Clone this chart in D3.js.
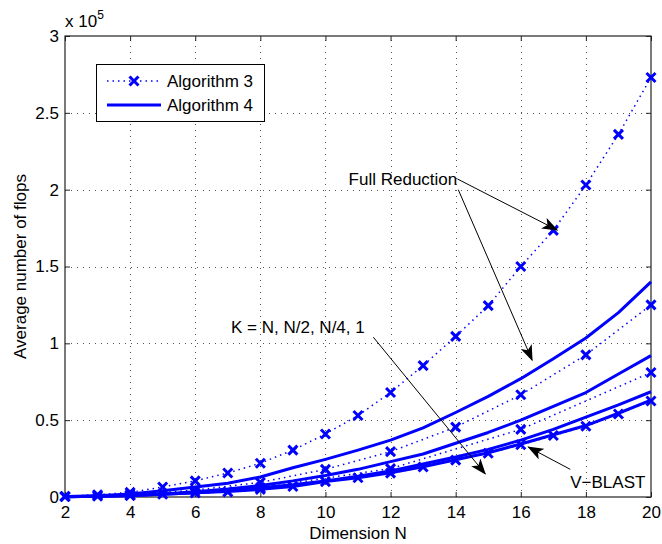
<!DOCTYPE html>
<html>
<head>
<meta charset="utf-8">
<title>flops</title>
<script src="https://cdn.jsdelivr.net/npm/d3@7"></script>
<style>
  body { margin: 0; background: #fff; }
  text { font-family: "Liberation Sans", Arial, sans-serif; }
</style>
</head>
<body>
<script>
// dimension N
var dims = d3.range(2, 21);
var evenDims = [2, 4, 6, 8, 10, 12, 14, 16, 18, 20];
var quarterDims = [4, 8, 12, 16, 20];

// Algorithm 3 (dotted, x markers), values in units of 1e5
var alg3Full = [0.005, 0.015, 0.03, 0.065, 0.105, 0.156, 0.22, 0.305, 0.41, 0.53, 0.68, 0.855, 1.045, 1.245, 1.50, 1.735, 2.03, 2.36, 2.73];
var alg3Half = [0.003, 0.015, 0.045, 0.095, 0.18, 0.295, 0.455, 0.665, 0.925, 1.25];
var alg3Quarter = [0.01, 0.06, 0.185, 0.44, 0.81];
var alg3One = [0.002, 0.005, 0.01, 0.018, 0.027, 0.033, 0.05, 0.068, 0.10, 0.125, 0.155, 0.195, 0.24, 0.285, 0.34, 0.40, 0.46, 0.54, 0.625];

// Algorithm 4 (solid)
var alg4Full = [0.003, 0.008, 0.02, 0.04, 0.065, 0.09, 0.13, 0.19, 0.245, 0.305, 0.37, 0.45, 0.55, 0.655, 0.77, 0.90, 1.035, 1.20, 1.40];
var alg4Half = [0.002, 0.005, 0.01, 0.02, 0.035, 0.052, 0.075, 0.105, 0.14, 0.18, 0.23, 0.28, 0.35, 0.42, 0.50, 0.59, 0.68, 0.80, 0.92];
var alg4Quarter = [0.002, 0.005, 0.01, 0.018, 0.028, 0.04, 0.06, 0.08, 0.105, 0.135, 0.17, 0.215, 0.26, 0.31, 0.37, 0.44, 0.52, 0.60, 0.685];
var vblast = [0.002, 0.005, 0.01, 0.018, 0.027, 0.035, 0.05, 0.068, 0.10, 0.125, 0.157, 0.197, 0.242, 0.288, 0.345, 0.405, 0.465, 0.545, 0.63];

var xTicks = [2, 4, 6, 8, 10, 12, 14, 16, 18, 20];
var yTicks = [0, 0.5, 1, 1.5, 2, 2.5, 3];
var legendLabels = ["Algorithm 3", "Algorithm 4"];

var blue = "#0000ff";
var fs = 17;
var width = 662, height = 544;
var margin = { left: 65, right: 11, top: 36, bottom: 47 };

var svg = d3.select("body").append("svg")
  .attr("width", width)
  .attr("height", height);

var x = d3.scaleLinear().domain([2, 20]).range([margin.left, width - margin.right]);
var y = d3.scaleLinear().domain([0, 3]).range([height - margin.bottom, margin.top]);

var x0 = x.range()[0], x1 = x.range()[1], y0 = y.range()[0], y1 = y.range()[1];

// grid
var grid = svg.append("g")
  .attr("stroke", "#555")
  .attr("stroke-width", 1)
  .attr("stroke-dasharray", "1,5");
grid.selectAll(".gx")
  .data(xTicks.slice(1, -1))
  .join("line")
  .attr("x1", d => Math.round(x(d)) + 0.5).attr("x2", d => Math.round(x(d)) + 0.5)
  .attr("y1", y0).attr("y2", y1);
grid.selectAll(".gy")
  .data(yTicks.slice(1, -1))
  .join("line")
  .attr("y1", d => Math.round(y(d)) + 0.5).attr("y2", d => Math.round(y(d)) + 0.5)
  .attr("x1", x0).attr("x2", x1);

// axes
var bottomAxis = svg.append("g")
  .attr("transform", `translate(0,${y0})`)
  .call(d3.axisBottom(x).tickValues(xTicks).tickSize(-5).tickPadding(9).tickFormat(d3.format("d")));
var topAxis = svg.append("g")
  .attr("transform", `translate(0,${y1})`)
  .call(d3.axisTop(x).tickValues(xTicks).tickSize(-5).tickFormat(""));
var leftAxis = svg.append("g")
  .attr("transform", `translate(${x0},0)`)
  .call(d3.axisLeft(y).tickValues(yTicks).tickSize(-5).tickPadding(6).tickFormat(d => d));
var rightAxis = svg.append("g")
  .attr("transform", `translate(${x1},0)`)
  .call(d3.axisRight(y).tickValues(yTicks).tickSize(-5).tickFormat(""));

[bottomAxis, topAxis, leftAxis, rightAxis].forEach(function (a) {
  a.select(".domain").remove();
  a.selectAll("line").attr("stroke", "#222");
  a.selectAll("text").attr("font-size", fs).attr("fill", "#000")
    .style("font-family", "'Liberation Sans', Arial, sans-serif");
});

svg.append("rect")
  .attr("x", x0).attr("y", y1)
  .attr("width", x1 - x0).attr("height", y0 - y1)
  .attr("fill", "none").attr("stroke", "#222").attr("stroke-width", 1.2);

// exponent label
var expo = svg.append("text").attr("x", x0).attr("y", y1 - 9).attr("font-size", fs);
expo.append("tspan").text("x 10");
expo.append("tspan").attr("font-size", 12).attr("dy", -8).text("5");

// axis labels
svg.append("text")
  .attr("x", (x0 + x1) / 2).attr("y", height - 5)
  .attr("text-anchor", "middle").attr("font-size", fs)
  .text("Dimension N");
svg.append("text")
  .attr("transform", `translate(26,${(y0 + y1) / 2}) rotate(-90)`)
  .attr("text-anchor", "middle").attr("font-size", fs)
  .text("Average number of flops");

// series
var line = d3.line().x(d => x(d[0])).y(d => y(d[1]));
svg.append("clipPath").attr("id", "plotclip")
  .append("rect").attr("x", x0 - 6).attr("y", y1).attr("width", x1 - x0 + 12).attr("height", y0 - y1 + 6);

var plot = svg.append("g").attr("clip-path", "url(#plotclip)");

function pairs(xs, ys) { return xs.map((d, i) => [d, ys[i]]); }

var solidSeries = [pairs(dims, alg4Full), pairs(dims, alg4Half), pairs(dims, alg4Quarter), pairs(dims, vblast)];
var dottedSeries = [pairs(dims, alg3Full), pairs(evenDims, alg3Half), pairs(quarterDims, alg3Quarter), pairs(dims, alg3One)];

plot.selectAll(".solid")
  .data(solidSeries)
  .join("path")
  .attr("d", line)
  .attr("fill", "none")
  .attr("stroke", blue)
  .attr("stroke-width", 3)
  .attr("stroke-linejoin", "round");

plot.selectAll(".dotted")
  .data(dottedSeries)
  .join("path")
  .attr("d", line)
  .attr("fill", "none")
  .attr("stroke", blue)
  .attr("stroke-width", 1.5)
  .attr("stroke-dasharray", "1.5,4");

function cross(g, cx, cy) {
  var s = 4.5;
  g.append("path")
    .attr("d", `M${cx - s},${cy - s}L${cx + s},${cy + s}M${cx - s},${cy + s}L${cx + s},${cy - s}`)
    .attr("stroke", blue).attr("stroke-width", 3).attr("fill", "none");
}
var markers = plot.append("g");
dottedSeries.forEach(function (s) {
  s.forEach(function (d) { cross(markers, x(d[0]), y(d[1])); });
});

// legend
var lg = svg.append("g");
lg.append("rect").attr("x", 96.5).attr("y", 64.5).attr("width", 168).attr("height", 57)
  .attr("fill", "#fff").attr("stroke", "#000").attr("stroke-width", 1);
lg.append("line").attr("x1", 107).attr("x2", 160).attr("y1", 81).attr("y2", 81)
  .attr("stroke", blue).attr("stroke-width", 1.5).attr("stroke-dasharray", "1.5,4");
cross(lg, 134, 81);
lg.append("line").attr("x1", 107).attr("x2", 161).attr("y1", 105).attr("y2", 105)
  .attr("stroke", blue).attr("stroke-width", 3);
lg.selectAll(".lt")
  .data(legendLabels)
  .join("text")
  .attr("x", 167).attr("y", (d, i) => 87 + i * 24)
  .attr("font-size", fs)
  .text(d => d);

// annotations
var defs = svg.append("defs");
defs.append("marker")
  .attr("id", "ah")
  .attr("viewBox", "0 0 16 12")
  .attr("refX", 15).attr("refY", 6)
  .attr("markerWidth", 16).attr("markerHeight", 12)
  .attr("markerUnits", "userSpaceOnUse")
  .attr("orient", "auto")
  .append("path")
  .attr("d", "M0,0L16,6L0,12L4,6Z")
  .attr("fill", "#000");

function arrow(xa, ya, xb, yb) {
  svg.append("line")
    .attr("x1", x(xa)).attr("y1", y(ya)).attr("x2", x(xb)).attr("y2", y(yb))
    .attr("stroke", "#000").attr("stroke-width", 1)
    .attr("marker-end", "url(#ah)");
}

svg.append("text").attr("x", x(14.05)).attr("y", y(2.03)).attr("text-anchor", "end")
  .attr("font-size", fs).text("Full Reduction");
arrow(14.05, 2.07, 17.12, 1.737);
arrow(14.08, 2.0, 16.35, 0.89);

svg.append("text").attr("x", x(7.1)).attr("y", y(1.07)).attr("font-size", fs).text("K = N, N/2, N/4, 1");
arrow(11.47, 1.04, 14.91, 0.15);

svg.append("text").attr("x", x(17.52)).attr("y", y(0.06)).attr("font-size", fs).text("V\u2212BLAST");
arrow(17.52, 0.18, 16.23, 0.325);
</script>
</body>
</html>
